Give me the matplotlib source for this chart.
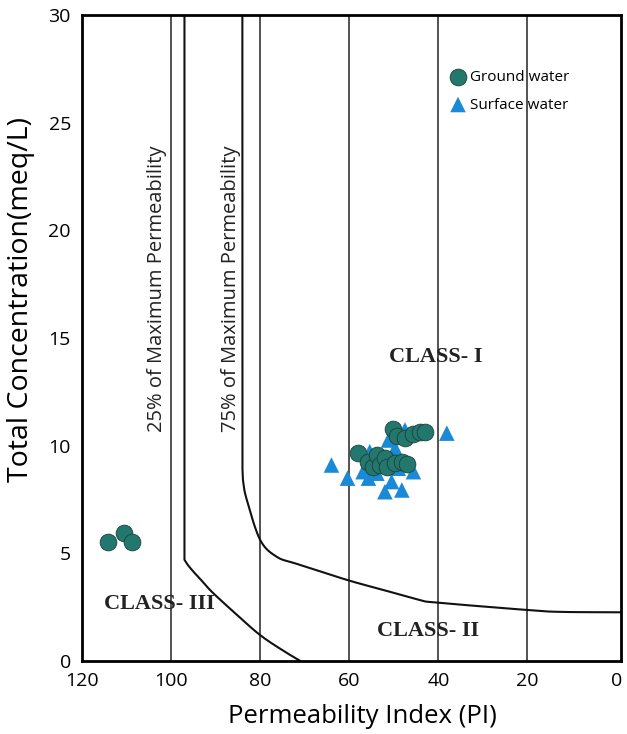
import matplotlib
matplotlib.use("Agg")
import matplotlib.pyplot as plt
import numpy as np

# Permeability index (PI) and total concentration (meq/L) of the samples
gw_pi = [114.1, 110.5, 108.8,
         50.1, 49.2, 47.5, 45.6, 44.1, 43.0,
         58.0, 55.7, 54.6, 53.8, 53.1, 52.0, 51.6, 49.7, 48.2, 47.1]
gw_tc = [5.51, 5.93, 5.54,
         10.78, 10.46, 10.37, 10.53, 10.62, 10.62,
         9.65, 9.25, 9.02, 9.57, 9.10, 9.41, 9.02, 9.18, 9.26, 9.14]

sw_pi = [64.0, 60.4, 55.7, 56.9, 52.0, 50.5, 48.2, 45.6, 49.0, 38.1,
         55.4, 51.2, 49.7, 47.5, 53.8]
sw_tc = [9.10, 8.49, 8.49, 8.79, 7.86, 8.33, 7.94, 8.79, 8.95, 10.58,
         9.72, 10.26, 9.88, 10.73, 8.72]

# Doneen class boundaries (straight vertical part, then a curved knee)
b25_top = [97.0, 30.0]
b25_pi = [97.0, 96.4, 95.0, 93.0, 90.6, 85.0, 80.0, 75.0, 71.0]
b25_tc = [4.70, 4.50, 4.15, 3.70, 3.16, 2.10, 1.20, 0.50, 0.0]

b75_top = [84.0, 30.0]
b75_pi = [84.0, 83.8, 83.0, 80.0, 76.3, 71.8, 60.45, 52.4, 44.1, 40.3, 20.2, 12.7, -1.0]
b75_tc = [9.0, 8.3, 7.48, 5.62, 4.84, 4.51, 3.76, 3.30, 2.83, 2.71, 2.37, 2.28, 2.26]

grid_pi = [100, 80, 60, 40, 20]
x_ticks = [120, 100, 80, 60, 40, 20, 0]
y_ticks = [0, 5, 10, 15, 20, 25, 30]


def catmull_rom(xs, ys, n=20):
    """Smooth curve passing through the given points."""
    p = np.column_stack([xs, ys]).astype(float)
    p = np.vstack([2 * p[0] - p[1], p, 2 * p[-1] - p[-2]])
    out = []
    t = np.linspace(0, 1, n, endpoint=False)[:, None]
    for i in range(1, len(p) - 2):
        p0, p1, p2, p3 = p[i - 1], p[i], p[i + 1], p[i + 2]
        seg = 0.5 * ((2 * p1) + (-p0 + p2) * t +
                     (2 * p0 - 5 * p1 + 4 * p2 - p3) * t ** 2 +
                     (-p0 + 3 * p1 - 3 * p2 + p3) * t ** 3)
        out.append(seg)
    out.append(p[-2][None, :])
    c = np.vstack(out)
    return c[:, 0], c[:, 1]


plt.rcParams['font.family'] = ['Open Sans', 'DejaVu Sans']

fig = plt.figure(figsize=(6.27, 7.34), dpi=100)
ax = fig.add_axes([0.1308, 0.0995, 0.8596, 0.8801])

for g in grid_pi:
    ax.axvline(g, color='#444444', lw=1.3, zorder=1)

for top, bx, by in [(b25_top, b25_pi, b25_tc), (b75_top, b75_pi, b75_tc)]:
    cx, cy = catmull_rom(bx, by)
    ax.plot(np.r_[top[0], cx], np.r_[top[1], cy], color='#111111', lw=1.5, zorder=2)

ax.scatter(sw_pi, sw_tc, marker='^', s=125, color='#1a8ad6', edgecolors='none',
           zorder=3, label='Surface water')
ax.scatter(gw_pi, gw_tc, marker='o', s=145, color='#23786d', edgecolors='#1c3f3a',
           linewidths=0.6, zorder=4, label='Ground water')

serif = ['Liberation Serif', 'DejaVu Serif']
ax.text(40.5, 14.12, 'CLASS- I', family=serif, weight='bold', fontsize=16,
        color='#222222', ha='center', va='center')
ax.text(42.3, 1.39, 'CLASS- II', family=serif, weight='bold', fontsize=16,
        color='#222222', ha='center', va='center')
ax.text(102.7, 2.65, 'CLASS- III', family=serif, weight='bold', fontsize=16,
        color='#222222', ha='center', va='center')

ax.text(103.2, 17.3, '25% of Maximum Permeability', rotation=90, fontsize=14.5,
        color='#222222', ha='center', va='center')
ax.text(86.6, 17.3, '75% of Maximum Permeability', rotation=90, fontsize=14.5,
        color='#222222', ha='center', va='center')

ax.set_xlim(120, -1)
ax.set_ylim(0, 30)
ax.set_xticks(x_ticks)
ax.set_yticks(y_ticks)
ax.tick_params(length=0, labelsize=14, pad=8)
for s in ax.spines.values():
    s.set_linewidth(2)
    s.set_color('black')

ax.set_xlabel('Permeability Index (PI)', fontsize=18.5)
ax.xaxis.set_label_coords(0.521, -0.067)
ax.set_ylabel('Total Concentration(meq/L)', fontsize=20.5)
ax.yaxis.set_label_coords(-0.088, 0.56)

h, l = ax.get_legend_handles_labels()
ax.legend([h[1], h[0]], [l[1], l[0]], loc='upper left', bbox_to_anchor=(0.665, 0.925),
          frameon=False, fontsize=11, handletextpad=0.05, labelspacing=0.85,
          borderaxespad=0, handlelength=1.5)

fig.savefig('out.png', dpi=100)
